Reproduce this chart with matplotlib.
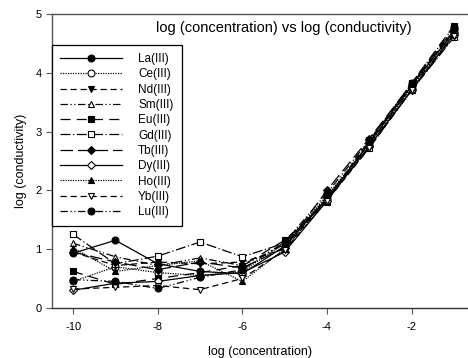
import matplotlib
matplotlib.use("Agg")
import matplotlib.pyplot as plt

plt.rcParams['font.family'] = ['Liberation Sans', 'DejaVu Sans']
plt.rcParams['axes.unicode_minus'] = False

# log concentration
x = [-10, -9, -8, -7, -6, -5, -4, -3, -2, -1]

la = [0.93, 1.15, 0.75, 0.62, 0.58, 1.05, 1.85, 2.80, 3.78, 4.70]
ce = [0.45, 0.70, 0.60, 0.55, 0.62, 1.10, 1.90, 2.75, 3.72, 4.68]
nd = [0.95, 0.72, 0.78, 0.75, 0.78, 1.00, 1.85, 2.85, 3.80, 4.72]
sm = [1.10, 0.87, 0.72, 0.85, 0.72, 1.08, 1.88, 2.78, 3.75, 4.65]
eu = [0.62, 0.40, 0.50, 0.60, 0.72, 1.15, 1.80, 2.82, 3.82, 4.80]
gd = [1.25, 0.75, 0.88, 1.12, 0.87, 1.10, 1.85, 2.72, 3.70, 4.60]
tb = [0.95, 0.78, 0.65, 0.78, 0.68, 1.02, 2.00, 2.88, 3.80, 4.75]
dy = [0.30, 0.42, 0.45, 0.55, 0.60, 0.95, 1.82, 2.75, 3.70, 4.65]
ho = [1.02, 0.62, 0.72, 0.80, 0.45, 1.00, 1.90, 2.80, 3.75, 4.70]
yb = [0.32, 0.35, 0.38, 0.31, 0.50, 0.98, 1.82, 2.72, 3.70, 4.62]
lu = [0.48, 0.45, 0.33, 0.52, 0.65, 1.12, 1.95, 2.85, 3.82, 4.78]

labels = ['La(III)', 'Ce(III)', 'Nd(III)', 'Sm(III)', 'Eu(III)', 'Gd(III)',
          'Tb(III)', 'Dy(III)', 'Ho(III)', 'Yb(III)', 'Lu(III)']
series = [la, ce, nd, sm, eu, gd, tb, dy, ho, yb, lu]

dashdotdot = (0, (6, 2, 1, 2, 1, 2))
styles = [
    ('-', 'o', 'black'),
    ((0, (1, 1)), 'o', 'white'),
    ((0, (5, 3)), 'v', 'black'),
    (dashdotdot, '^', 'white'),
    ((0, (8, 5)), 's', 'black'),
    ((0, (8, 2, 1, 2)), 's', 'white'),
    ((0, (10, 4)), 'D', 'black'),
    ('-', 'D', 'white'),
    ((0, (1, 1)), '^', 'black'),
    ((0, (5, 3)), 'v', 'white'),
    (dashdotdot, 'o', 'black'),
]

fig = plt.figure(figsize=(4.68, 3.58), dpi=100)
ax = fig.add_axes([0.111, 0.14, 0.889, 0.821])

for y, lab, (ls, mk, fc) in zip(series, labels, styles):
    ms = 4.2 if mk == 'D' else 5
    ax.plot(x, y, linestyle=ls, marker=mk, color='black', markerfacecolor=fc,
            markeredgecolor='black', markersize=ms, linewidth=0.9,
            markeredgewidth=0.8, label=lab)

ax.set_xlim(-10.5, -0.665)
ax.set_ylim(0, 5)
ax.set_xticks([-10, -8, -6, -4, -2])
ax.set_yticks([0, 1, 2, 3, 4, 5])
ax.tick_params(labelsize=8, length=4, width=0.8, color='#555555')
ax.tick_params(axis='x', pad=6)
ax.spines['right'].set_visible(False)
for s in ['left', 'top', 'bottom']:
    ax.spines[s].set_color('#555555')
    ax.spines[s].set_linewidth(1)
ax.spines['bottom'].set_color('#333333')

ax.set_xlabel('log (concentration)', fontsize=9, labelpad=10)
ax.set_ylabel('log (conductivity)', fontsize=9, labelpad=6)
ax.text(0.557, 0.975, 'log (concentration) vs log (conductivity)', transform=ax.transAxes,
        ha='center', va='top', fontsize=10.5)

leg = ax.legend(loc='upper left', bbox_to_anchor=(0.0, 0.895), fontsize=8.5,
                handlelength=5.2, handletextpad=1.4, labelspacing=0.28,
                borderpad=0.7, frameon=True, fancybox=False, framealpha=1,
                borderaxespad=0)
leg.get_frame().set_edgecolor('black')
leg.get_frame().set_linewidth(0.9)

fig.savefig('out.png', dpi=100)
